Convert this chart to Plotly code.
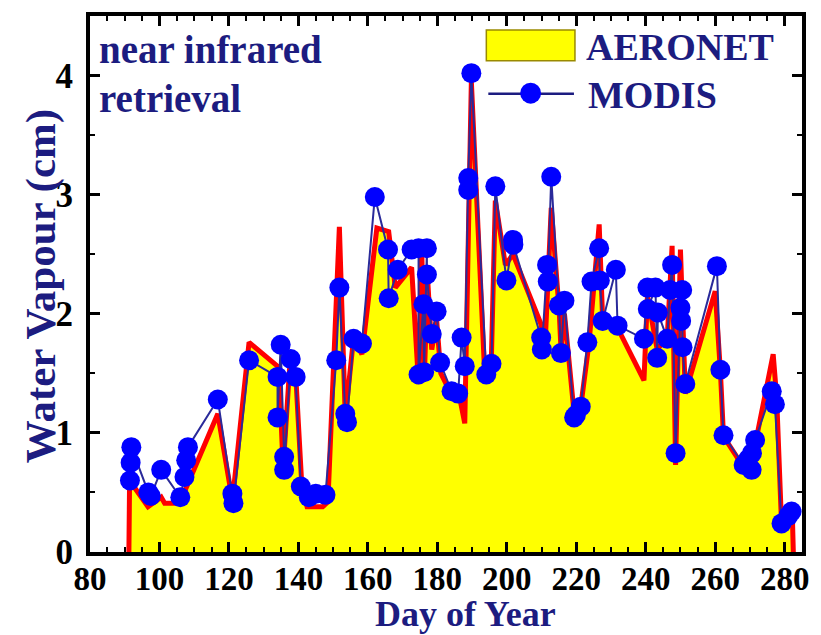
import plotly.graph_objects as go

# ---------------- data ----------------
aeronet_day = [91.2, 91.4, 96.7, 100.5, 101.5, 105.8, 116.8, 121.0, 125.8, 134.4,
               135.6, 137.8, 139.3, 141.0, 142.5, 147.0, 148.5, 151.8, 153.5, 155.9,
               158.3, 162.6, 166.0, 167.9, 172.6, 174.6, 175.5, 176.3, 177.2, 178.4,
               179.8, 181.0, 184.1, 186.0, 187.9, 189.8, 193.6, 195.5, 196.7, 199.6,
               201.8, 209.9, 211.0, 212.8, 215.1, 215.6, 216.6, 219.4, 221.3, 223.7,
               226.6, 227.6, 231.4, 239.5, 240.5, 243.3, 246.2, 247.6, 248.6, 250.0,
               251.4, 260.0, 261.5, 262.4, 266.2, 268.2, 270.5, 271.5, 276.7, 277.7,
               279.1, 282.2, 282.5]
aeronet_wv = [0.00, 0.60, 0.38, 0.46, 0.41, 0.41, 1.16, 0.43, 1.76, 1.55,
              0.70, 1.69, 1.45, 0.55, 0.38, 0.38, 0.42, 2.73, 1.13, 1.80,
              1.66, 2.72, 2.69, 2.22, 2.39, 1.41, 2.55, 1.50, 2.30, 1.70,
              1.95, 1.50, 1.32, 1.36, 1.08, 3.95, 1.52, 1.55, 2.95, 2.41,
              2.50, 1.91, 1.72, 2.89, 2.02, 1.70, 2.00, 1.16, 1.22, 1.76,
              2.75, 1.95, 1.91, 1.44, 2.15, 1.70, 1.80, 2.57, 0.73, 2.54,
              1.33, 2.19, 1.52, 0.97, 0.80, 0.68, 0.68, 0.90, 1.66, 1.30,
              0.24, 0.33, 0.00]

modis_day = [91.5, 91.7, 91.9, 96.8, 97.5, 100.5, 106.0, 107.2, 107.7, 108.2,
             116.8, 121.0, 121.3, 125.8, 134.0, 134.0, 134.9, 135.9, 135.9, 137.8,
             139.2, 140.7, 143.0, 145.0, 147.8, 150.9, 151.8, 153.5, 154.0, 155.9,
             158.3, 162.0, 165.8, 166.0, 168.6, 172.6, 174.6, 174.6, 176.0, 176.2,
             177.0, 177.0, 178.4, 179.8, 180.8, 184.1, 186.0, 187.0, 187.9, 188.9,
             188.9, 189.8, 194.1, 195.6, 196.7, 199.9, 201.8, 201.9, 209.9, 210.1,
             211.6, 211.8, 212.8, 215.0, 215.6, 216.6, 219.4, 219.9, 221.3, 223.2,
             224.4, 226.6, 226.8, 227.6, 231.4, 231.9, 239.5, 240.5, 240.6, 242.8,
             243.3, 243.5, 246.2, 247.0, 247.6, 248.6, 250.0, 250.2, 250.5, 250.6,
             251.4, 260.5, 261.5, 262.4, 268.2, 269.5, 270.5, 270.6, 271.5, 276.3,
             277.2, 279.1, 281.0, 282.0]
modis_wv = [0.60, 0.75, 0.88, 0.50, 0.47, 0.69, 0.46, 0.63, 0.77, 0.88,
            1.28, 0.49, 0.41, 1.61, 1.47, 1.13, 1.74, 0.80, 0.69, 1.62,
            1.47, 0.55, 0.46, 0.49, 0.48, 1.61, 2.22, 1.16, 1.09, 1.79,
            1.75, 2.98, 2.54, 2.13, 2.37, 2.54, 2.55, 1.49, 2.08, 1.51,
            2.55, 2.33, 1.83, 2.02, 1.59, 1.35, 1.33, 1.80, 1.56, 3.04,
            3.14, 4.02, 1.49, 1.58, 3.07, 2.28, 2.62, 2.58, 1.80, 1.70,
            2.41, 2.27, 3.15, 2.07, 1.67, 2.11, 1.13, 1.15, 1.22, 1.76,
            2.27, 2.55, 2.28, 1.94, 2.37, 1.90, 1.79, 2.22, 2.04, 2.22,
            1.63, 2.01, 1.79, 2.20, 2.41, 0.83, 2.05, 1.94, 2.20, 1.72,
            1.41, 2.40, 1.53, 0.98, 0.73, 0.78, 0.69, 0.83, 0.94, 1.35,
            1.24, 0.24, 0.30, 0.34]

x_ticks = [80, 100, 120, 140, 160, 180, 200, 220, 240, 260, 280]
y_ticks = [0, 1, 2, 3, 4]

# ---------------- style ----------------
SERIF = "Liberation Serif, Times New Roman, serif"
NAVY = "#1c1c80"
YELLOW = "#FFFF00"
RED = "#FF0000"
BLUE = "#0000FF"
LINE_BLUE = "#2a2a9a"

fig = go.Figure()
fig.add_trace(go.Scatter(
    x=aeronet_day, y=aeronet_wv, mode="lines", fill="tozeroy",
    fillcolor=YELLOW, line=dict(color=RED, width=5), name="AERONET",
    showlegend=False))
fig.add_trace(go.Scatter(
    x=modis_day, y=modis_wv, mode="lines+markers",
    line=dict(color=LINE_BLUE, width=2),
    marker=dict(size=20, color=BLUE), name="MODIS", showlegend=False))

axis_common = dict(
    showline=True, linewidth=4, linecolor="black", mirror="ticks",
    ticks="inside", ticklen=10, tickwidth=2.5, tickcolor="black",
    showgrid=False, zeroline=False,
)
fig.update_xaxes(range=[80, 285], tickvals=x_ticks,
                 ticktext=[str(v) for v in x_ticks],
                 tickfont=dict(family=SERIF, size=33, color="black", weight="bold"),
                 ticklabelstandoff=-6,
                 minor=dict(dtick=5, tick0=80, ticks="inside", ticklen=5,
                            tickwidth=2, tickcolor="black", showgrid=False),
                 **axis_common)
fig.update_yaxes(range=[0, 4.5], tickvals=y_ticks,
                 ticktext=[str(v) for v in y_ticks],
                 tickfont=dict(family=SERIF, size=35, color="black", weight="bold"),
                 minor=dict(dtick=0.5, tick0=0, ticks="inside", ticklen=5,
                            tickwidth=2, tickcolor="black", showgrid=False),
                 ticklabelstandoff=6,
                 **axis_common)

W, H = 821, 635
ML, MR, MT, MB = 90, 16, 14, 83
PW, PH = W - ML - MR, H - MT - MB


def px(xp):
    return (xp - ML) / PW


def py(yp):
    return (H - MB - yp) / PH


def tfont(size):
    return dict(family=SERIF, size=size, color=NAVY, weight="bold")


annotations = [
    dict(text="Day of Year", x=px(467), y=py(614), xref="paper", yref="paper",
         showarrow=False, xanchor="center", yanchor="middle", font=tfont(36)),
    dict(text="Water Vapour (cm)", x=px(41), y=py(285), xref="paper", yref="paper",
         showarrow=False, xanchor="center", yanchor="middle", textangle=-90,
         font=tfont(43)),
    dict(text="near infrared", x=px(97), y=py(48), xref="paper", yref="paper",
         showarrow=False, xanchor="left", yanchor="middle", font=tfont(39)),
    dict(text="retrieval", x=px(97), y=py(97), xref="paper", yref="paper",
         showarrow=False, xanchor="left", yanchor="middle", font=tfont(39)),
    dict(text="AERONET", x=px(586), y=py(45), xref="paper", yref="paper",
         showarrow=False, xanchor="left", yanchor="middle", font=tfont(38)),
    dict(text="MODIS", x=px(588), y=py(93), xref="paper", yref="paper",
         showarrow=False, xanchor="left", yanchor="middle", font=tfont(38)),
]

shapes = [
    dict(type="rect", xref="paper", yref="paper",
         x0=px(488), x1=px(577), y0=py(59), y1=py(28),
         fillcolor=YELLOW, line=dict(color="#9a8a00", width=1.5)),
    dict(type="line", xref="paper", yref="paper",
         x0=px(490), x1=px(576), y0=py(92), y1=py(92),
         line=dict(color=NAVY, width=2.5)),
    dict(type="circle", xref="paper", yref="paper",
         x0=px(522), x1=px(543), y0=py(102), y1=py(81),
         fillcolor=BLUE, line=dict(color=BLUE, width=0)),
]

fig.update_layout(
    width=W, height=H,
    margin=dict(l=ML, r=MR, t=MT, b=MB),
    plot_bgcolor="white", paper_bgcolor="white",
    showlegend=False,
    annotations=annotations, shapes=shapes,
)

fig.write_html("out.html")
